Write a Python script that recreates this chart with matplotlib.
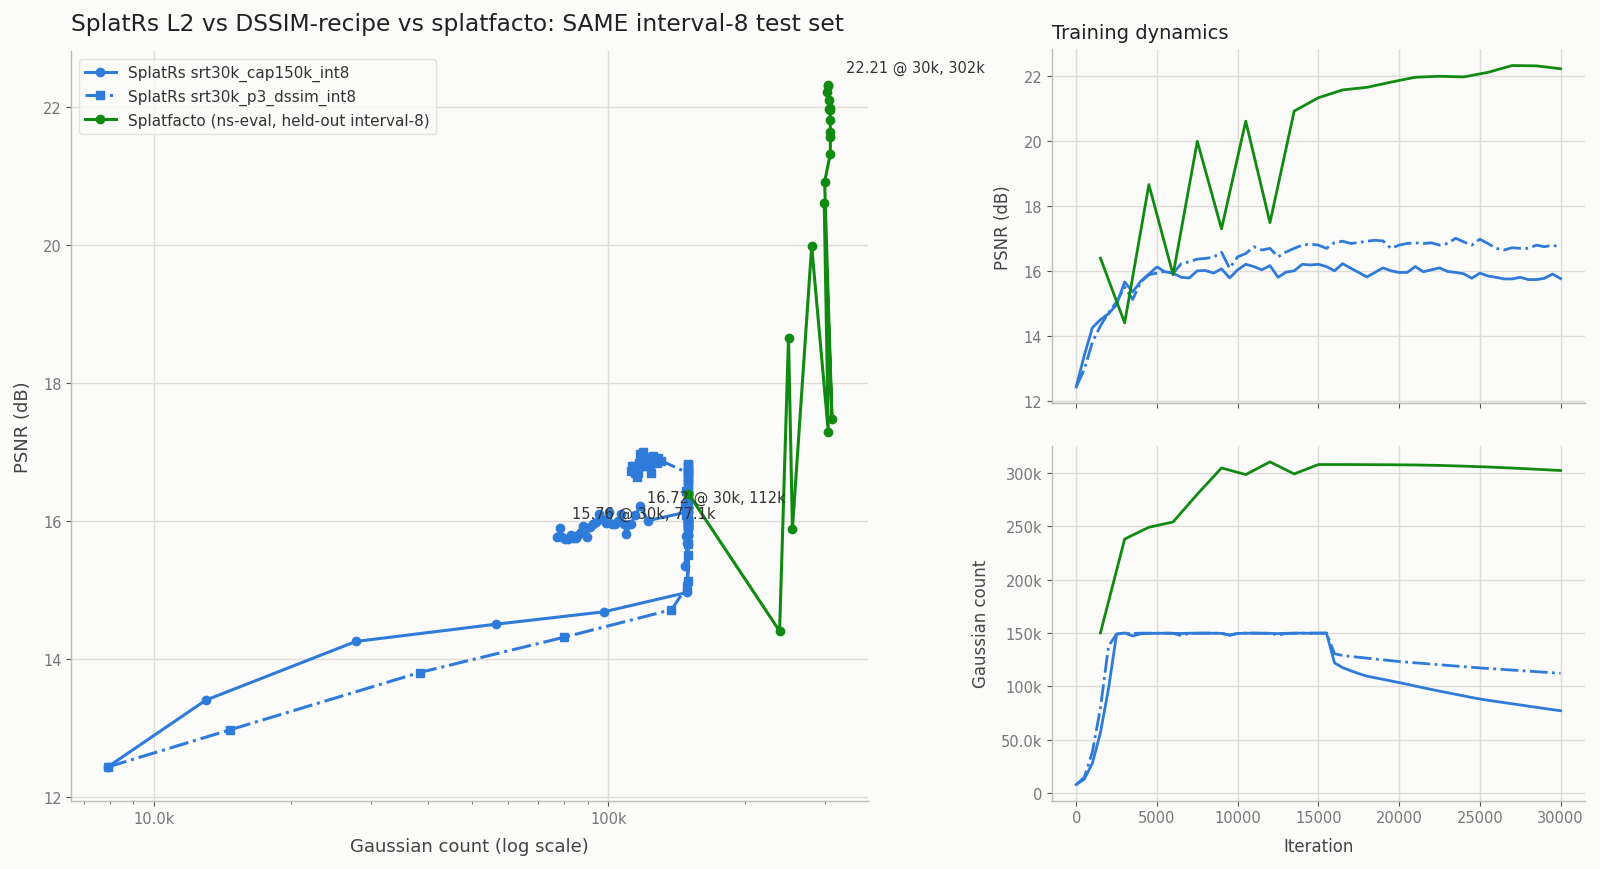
import matplotlib
matplotlib.use("Agg")
import matplotlib.pyplot as plt
from matplotlib.ticker import FuncFormatter, NullFormatter

# ---- data ----
# SplatRs runs are evaluated every 500 iterations
iters_sr = list(range(0, 30001, 500))

psnr_l2 = [12.43, 13.40, 14.25, 14.50, 14.68, 14.96, 15.66, 15.35, 15.68, 15.90,
           16.12, 15.97, 15.93, 15.80, 15.78, 16.00, 16.01, 15.93, 16.06, 15.78,
           16.03, 16.20, 16.13, 16.03, 16.16, 15.80, 15.96, 16.00, 16.20, 16.18,
           16.20, 16.13, 16.00, 16.22, 16.08, 15.95, 15.81, 15.95, 16.09, 16.00,
           15.95, 15.95, 16.13, 15.97, 16.03, 16.09, 15.98, 15.95, 15.91, 15.77,
           15.93, 15.84, 15.80, 15.75, 15.75, 15.80, 15.73, 15.73, 15.77, 15.90,
           15.76]
count_l2 = [7.9, 13.0, 27.8, 56.5, 97.8, 148.8, 150.0, 147.2, 149.2, 149.6,
            149.7, 149.7, 149.6, 149.5, 149.7, 149.8, 149.8, 149.7, 149.6, 148.0,
            149.5, 149.7, 149.8, 149.7, 149.6, 149.4, 149.6, 149.8, 149.8, 149.7,
            149.8, 149.9, 121.9, 117.5, 114.6, 111.9, 109.5, 108.0, 106.5, 105.0,
            103.5, 101.9, 100.2, 98.6, 97.0, 95.5, 94.0, 92.5, 91.0, 89.5,
            88.1, 86.9, 85.8, 84.7, 83.6, 82.5, 81.4, 80.3, 79.2, 78.1,
            77.1]

psnr_dssim = [12.43, 12.97, 13.80, 14.31, 14.71, 15.05, 15.50, 15.12, 15.66, 15.88,
              15.93, 15.98, 15.92, 16.22, 16.28, 16.36, 16.38, 16.42, 16.57, 16.08,
              16.43, 16.53, 16.74, 16.64, 16.69, 16.43, 16.58, 16.69, 16.79, 16.82,
              16.79, 16.69, 16.87, 16.91, 16.84, 16.87, 16.91, 16.94, 16.92, 16.69,
              16.79, 16.84, 16.86, 16.84, 16.86, 16.79, 16.84, 17.00, 16.89, 16.79,
              16.97, 16.84, 16.69, 16.64, 16.71, 16.69, 16.69, 16.79, 16.74, 16.79,
              16.72]
count_dssim = [7.9, 14.7, 38.4, 79.7, 137.6, 149.0, 149.8, 149.5, 149.8, 149.8,
               149.7, 149.8, 149.7, 147.5, 149.5, 149.7, 149.8, 149.8, 149.7, 147.8,
               149.6, 149.8, 149.8, 149.7, 149.7, 148.0, 149.6, 149.7, 149.8, 149.8,
               149.8, 149.8, 130.5, 128.8, 128.0, 127.2, 126.4, 125.6, 124.8, 124.0,
               123.2, 122.6, 122.0, 121.4, 120.8, 120.2, 119.6, 119.0, 118.4, 117.8,
               117.2, 116.7, 116.2, 115.7, 115.2, 114.7, 114.2, 113.7, 113.2, 112.7,
               112.2]

# splatfacto evaluated every 1500 iterations
iters_sf = [1500, 3000, 4500, 6000, 7500, 9000, 10500, 12000, 13500, 15000,
            16500, 18000, 19500, 21000, 22500, 24000, 25500, 27000, 28500, 30000]
psnr_sf = [16.39, 14.40, 18.65, 15.88, 19.98, 17.29, 20.60, 17.48, 20.91, 21.32,
           21.56, 21.64, 21.80, 21.95, 21.98, 21.96, 22.10, 22.31, 22.30, 22.21]
count_sf = [150.0, 238.0, 249.0, 254.0, 280.0, 304.6, 298.4, 310.3, 299.0, 307.8,
            307.8, 307.7, 307.6, 307.4, 307.0, 306.3, 305.5, 304.5, 303.4, 302.2]

# counts above are in thousands
count_l2 = [c * 1000 for c in count_l2]
count_dssim = [c * 1000 for c in count_dssim]
count_sf = [c * 1000 for c in count_sf]

BLUE = "#2f7bd9"
GREEN = "#118a11"
BG = "#fbfbf9"
GRID = "#dedcd6"


def fmt_count(x, pos=None):
    if x == 0:
        return "0"
    if abs(x) >= 1e6:
        return f"{x / 1e6:.1f}M"
    if abs(x) >= 1e5:
        return f"{x / 1e3:.0f}k"
    return f"{x / 1e3:.1f}k"


plt.rcParams.update({
    "font.family": "DejaVu Sans",
    "axes.facecolor": BG,
    "figure.facecolor": BG,
    "axes.edgecolor": "#bdbbb5",
    "axes.linewidth": 1.0,
    "axes.grid": True,
    "grid.color": GRID,
    "grid.linewidth": 1.0,
    "axes.spines.top": False,
    "axes.spines.right": False,
    "xtick.color": "#555555",
    "ytick.color": "#555555",
    "xtick.labelcolor": "#777777",
    "ytick.labelcolor": "#777777",
    "xtick.labelsize": 10.5,
    "ytick.labelsize": 10.5,
    "axes.labelcolor": "#444444",
    "axes.labelsize": 12,
    "axes.labelpad": 8,
    "axes.axisbelow": True,
})

fig = plt.figure(figsize=(16, 8.7), dpi=100)
ax = fig.add_axes([0.0446, 0.078, 0.498, 0.862])
ax_p = fig.add_axes([0.6575, 0.5356, 0.333, 0.4064])
ax_c = fig.add_axes([0.6575, 0.0785, 0.333, 0.408], sharex=ax_p)

# ---- left: PSNR vs gaussian count ----
ax.plot(count_l2, psnr_l2, "-", marker="o", color=BLUE, lw=2.2, ms=6,
        label="SplatRs srt30k_cap150k_int8")
ax.plot(count_dssim, psnr_dssim, "-.", marker="s", color=BLUE, lw=2.2, ms=6,
        label="SplatRs srt30k_p3_dssim_int8")
ax.plot(count_sf, psnr_sf, "-", marker="o", color=GREEN, lw=2.2, ms=6,
        label="Splatfacto (ns-eval, held-out interval-8)")

ax.set_xscale("log")
ax.xaxis.set_major_formatter(FuncFormatter(fmt_count))
ax.xaxis.set_minor_formatter(NullFormatter())
ax.grid(False, which="minor")
ax.set_xlabel("Gaussian count (log scale)", fontsize=13)
ax.set_ylabel("PSNR (dB)", fontsize=13)
ax.set_title("SplatRs L2 vs DSSIM-recipe vs splatfacto: SAME interval-8 test set",
             loc="left", fontsize=16.8, color="#222222", pad=15)
ax.legend(loc="upper left", fontsize=11, frameon=True, facecolor=BG,
          edgecolor="#dddddd", labelcolor="#333333")

# end-point labels
ends = [(count_l2[-1], psnr_l2[-1], (11, 17)),
        (count_dssim[-1], psnr_dssim[-1], (11.5, -19)),
        (count_sf[-1], psnr_sf[-1], (14, 18))]
for c, p, off in ends:
    ax.annotate(f"{p:.2f} @ 30k, {fmt_count(c)}", (c, p), xytext=off,
                textcoords="offset points", ha="left", va="center",
                fontsize=10.5, color="#333333")

# ---- right top: PSNR over iterations ----
ax_p.plot(iters_sr, psnr_l2, "-", color=BLUE, lw=2)
ax_p.plot(iters_sr, psnr_dssim, "-.", color=BLUE, lw=2)
ax_p.plot(iters_sf, psnr_sf, "-", color=GREEN, lw=2)
ax_p.set_ylabel("PSNR (dB)")
ax_p.set_title("Training dynamics", loc="left", fontsize=14, color="#222222", pad=8)
ax_p.tick_params(labelbottom=False)

# ---- right bottom: gaussian count over iterations ----
ax_c.plot(iters_sr, count_l2, "-", color=BLUE, lw=2)
ax_c.plot(iters_sr, count_dssim, "-.", color=BLUE, lw=2)
ax_c.plot(iters_sf, count_sf, "-", color=GREEN, lw=2)
ax_c.yaxis.set_major_formatter(FuncFormatter(fmt_count))
ax_c.set_ylabel("Gaussian count")
ax_c.set_xlabel("Iteration")

fig.savefig("out.png", dpi=100, facecolor=BG)
